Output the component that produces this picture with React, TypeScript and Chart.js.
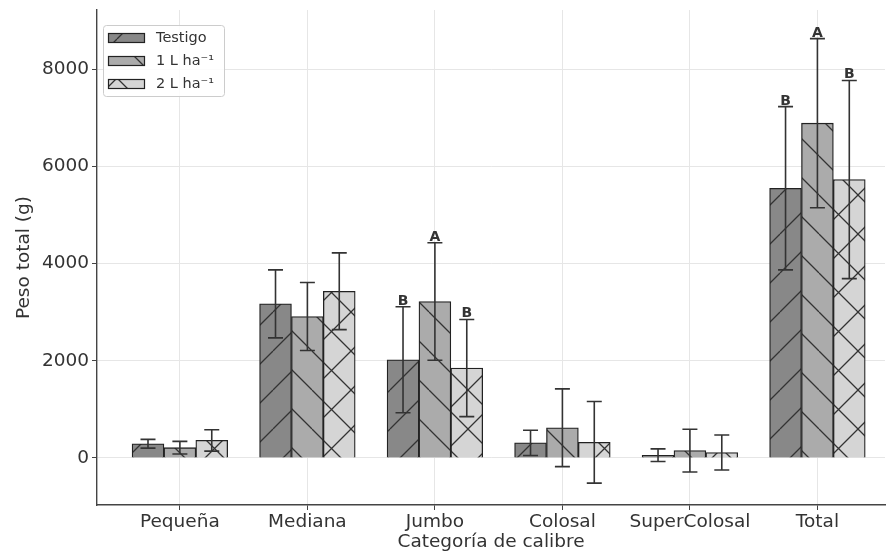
import { useEffect, useRef } from "react";
import { Chart, registerables } from "chart.js";

Chart.register(...registerables);

const categories = ["Pequeña", "Mediana", "Jumbo", "Colosal", "SuperColosal", "Total"];
const seriesNames = ["Testigo", "1 L ha⁻¹", "2 L ha⁻¹"];

const testigo = [290, 3170, 2020, 310, 55, 5550];
const testigoErr = [90, 700, 1090, 260, 130, 1680];
const testigoLetters = ["", "", "B", "", "", "B"];

const dosis1 = [210, 2910, 3220, 620, 150, 6890];
const dosis1Err = [130, 700, 1210, 800, 440, 1740];
const dosis1Letters = ["", "", "A", "", "", "A"];

const dosis2 = [360, 3430, 1850, 320, 110, 5730];
const dosis2Err = [220, 790, 1000, 840, 360, 2040];
const dosis2Letters = ["", "", "B", "", "", "B"];

const yTicks = [0, 2000, 4000, 6000, 8000];

const xTitle = "Categoría de calibre";
const yTitle = "Peso total (g)";

const FONT = "'DejaVu Sans', sans-serif";
const TEXT = "#333333";
const HATCH = "#333333";

const seriesValues = [testigo, dosis1, dosis2];
const seriesErrors = [testigoErr, dosis1Err, dosis2Err];
const seriesLetters = [testigoLetters, dosis1Letters, dosis2Letters];
const seriesFill = ["#888888", "#ababab", "#d5d5d5"];
const seriesHatch: string[][] = [["/"], ["\\"], ["/", "\\"]];

function makeHatch(bg: string, kinds: string[], p = 39): CanvasPattern | string {
  const c = document.createElement("canvas");
  c.width = p;
  c.height = p;
  const g = c.getContext("2d");
  if (!g) return bg;
  g.fillStyle = bg;
  g.fillRect(0, 0, p, p);
  g.strokeStyle = HATCH;
  g.lineWidth = 1.3;
  g.beginPath();
  for (const k of kinds) {
    for (const o of [-p, 0, p]) {
      if (k === "/") {
        g.moveTo(o, p);
        g.lineTo(o + p, 0);
      } else {
        g.moveTo(o, 0);
        g.lineTo(o + p, p);
      }
    }
  }
  g.stroke();
  const pat = g.createPattern(c, "repeat");
  return pat || bg;
}

export default function App() {
  const ref = useRef<HTMLCanvasElement>(null);

  useEffect(() => {
    const canvas = ref.current;
    if (!canvas) return;
    const fills = seriesFill.map((f, i) => makeHatch(f, seriesHatch[i]));

    const errorBars = {
      id: "errorBars",
      afterDatasetsDraw(chart: any) {
        const ctx = chart.ctx as CanvasRenderingContext2D;
        const ys = chart.scales.y;
        const cap = 7.5;
        chart.data.datasets.forEach((_: any, di: number) => {
          const meta = chart.getDatasetMeta(di);
          meta.data.forEach((bar: any, i: number) => {
            const v = seriesValues[di][i];
            const e = seriesErrors[di][i];
            const top = ys.getPixelForValue(v + e);
            const bot = ys.getPixelForValue(v - e);
            ctx.save();
            ctx.strokeStyle = "#333333";
            ctx.lineWidth = 1.6;
            ctx.beginPath();
            ctx.moveTo(bar.x, top);
            ctx.lineTo(bar.x, bot);
            ctx.moveTo(bar.x - cap, top);
            ctx.lineTo(bar.x + cap, top);
            ctx.moveTo(bar.x - cap, bot);
            ctx.lineTo(bar.x + cap, bot);
            ctx.stroke();
            const letter = seriesLetters[di][i];
            if (letter) {
              ctx.fillStyle = "#333333";
              ctx.font = `bold 14px ${FONT}`;
              ctx.textAlign = "center";
              ctx.textBaseline = "alphabetic";
              ctx.fillText(letter, bar.x, top - 2);
            }
            ctx.restore();
          });
        });
      },
    };

    const legendBox = {
      id: "legendBox",
      afterDraw(chart: any) {
        const ctx = chart.ctx as CanvasRenderingContext2D;
        ctx.save();
        ctx.beginPath();
        ctx.roundRect(103.5, 25.5, 121, 71, 3);
        ctx.fillStyle = "rgba(255,255,255,0.85)";
        ctx.fill();
        ctx.strokeStyle = "#cccccc";
        ctx.lineWidth = 1;
        ctx.stroke();
        const rows = [38, 61, 84];
        seriesNames.forEach((name, i) => {
          const cy = rows[i];
          ctx.fillStyle = fills[i] as any;
          ctx.fillRect(108, cy - 5, 37, 10);
          ctx.strokeStyle = "#222222";
          ctx.lineWidth = 1.2;
          ctx.strokeRect(108.5, cy - 4.5, 36, 9);
          ctx.fillStyle = TEXT;
          ctx.font = `14.5px ${FONT}`;
          ctx.textAlign = "left";
          ctx.textBaseline = "middle";
          ctx.fillText(name, 156, cy);
        });
        ctx.restore();
      },
    };

    const chart = new Chart(canvas, {
      type: "bar",
      data: {
        datasets: seriesNames.map((name, si) => ({
          label: name,
          data: seriesValues[si].map((v, i) => ({ x: i + (si - 1) * 0.25, y: v })),
          backgroundColor: fills[si] as any,
          borderColor: "#222222",
          borderWidth: 1.3,
          grouped: false,
          barPercentage: 1,
          categoryPercentage: 1,
        })),
      },
      options: {
        animation: false,
        responsive: false,
        maintainAspectRatio: false,
        layout: { padding: { left: 0, right: 3, top: 10, bottom: 0 } },
        scales: {
          x: {
            type: "linear",
            offset: false,
            min: -0.65,
            max: 5.53,
            afterBuildTicks: (axis: any) => {
              axis.ticks = categories.map((_, i) => ({ value: i }));
            },
            afterFit: (axis: any) => {
              axis.height = 49;
              axis.paddingLeft = 0;
              axis.paddingRight = 0;
            },
            ticks: {
              callback: (v: any) => categories[Math.round(Number(v))] ?? "",
              color: TEXT,
              font: { family: FONT, size: 18.5 },
              padding: 1,
              autoSkip: false,
              maxRotation: 0,
            },
            grid: { offset: false, color: "#e6e6e6", lineWidth: 1, tickColor: "#444444", tickLength: 5 },
            border: { color: "#444444", width: 1.4 },
            title: {
              display: true,
              text: xTitle,
              color: TEXT,
              font: { family: FONT, size: 18.5 },
              padding: { top: 0, bottom: 1 },
            },
          },
          y: {
            min: -970,
            max: 9220,
            afterBuildTicks: (axis: any) => {
              axis.ticks = yTicks.map((v) => ({ value: v }));
            },
            afterFit: (axis: any) => {
              axis.width = 97;
              axis.paddingTop = 0;
              axis.paddingBottom = 0;
            },
            ticks: {
              callback: (v: any) => String(v),
              color: TEXT,
              font: { family: FONT, size: 18.5 },
              padding: 3,
            },
            grid: { color: "#e6e6e6", lineWidth: 1, tickColor: "#444444", tickLength: 5 },
            border: { color: "#444444", width: 1.4 },
            title: {
              display: true,
              text: yTitle,
              color: TEXT,
              font: { family: FONT, size: 18.5 },
              padding: { top: 13, bottom: 0 },
            },
          },
        },
        plugins: {
          legend: { display: false },
          tooltip: { enabled: false },
        },
      },
      plugins: [errorBars, legendBox],
    });
    return () => chart.destroy();
  }, []);

  return (
    <div style={{ position: "fixed", left: 0, top: 0, width: 888, height: 554, background: "#ffffff" }}>
      <canvas ref={ref} width={888} height={554} style={{ display: "block" }} />
    </div>
  );
}
